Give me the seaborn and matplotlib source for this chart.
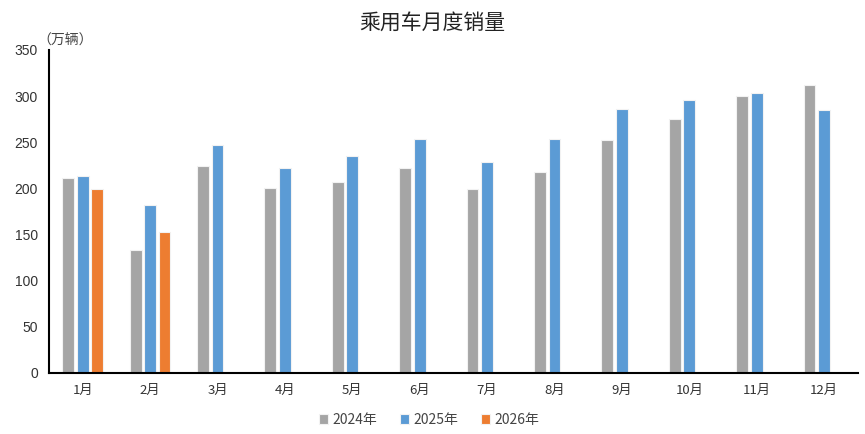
import pandas as pd
import numpy as np
import seaborn as sns
import matplotlib.pyplot as plt

months = ['1月', '2月', '3月', '4月', '5月', '6月', '7月', '8月', '9月', '10月', '11月', '12月']
years = ['2024年', '2025年', '2026年']
sales_2024 = [211, 133, 224, 200, 207, 222, 199, 218, 252, 275, 300, 312]
sales_2025 = [213, 182, 247, 222, 235, 254, 229, 254, 286, 296, 303, 285]
sales_2026 = [199, 153, np.nan, np.nan, np.nan, np.nan, np.nan, np.nan, np.nan, np.nan, np.nan, np.nan]
colors = ['#A5A5A5', '#5B9BD5', '#ED7D31']

df = pd.DataFrame({'month': months * 3,
                   'year': [y for y in years for _ in months],
                   'sales': sales_2024 + sales_2025 + sales_2026})

sns.set_style('white')
plt.rcParams['font.family'] = ['Noto Sans CJK SC', 'DejaVu Sans']

fig = plt.figure(figsize=(8.65, 4.34), dpi=100)
ax = fig.add_axes([0.0566, 0.1406, 0.935, 0.7442])

sns.barplot(data=df, x='month', y='sales', hue='year', palette=colors, saturation=1,
            width=0.645, gap=0.18, edgecolor='#F2F2F2', linewidth=0.8, ax=ax)

ax.set_ylim(0, 350)
ax.set_yticks(range(0, 351, 50))
ax.set_xlim(-0.5, 11.5)
ax.set_xlabel('')
ax.set_ylabel('')
for s in ['top', 'right']:
    ax.spines[s].set_visible(False)
for s in ['left', 'bottom']:
    ax.spines[s].set_color('black')
    ax.spines[s].set_linewidth(1.5)
ax.tick_params(axis='both', length=0, labelsize=9.5, colors='#333333', pad=8)
for lbl in ax.get_yticklabels():
    lbl.set_family(['Liberation Sans', 'DejaVu Sans'])
    lbl.set_fontsize(10)

fig.text(0.5, 0.948, '乘用车月度销量', ha='center', va='center', fontsize=15, color='#222222')
fig.text(0.043, 0.907, '（万辆）', ha='left', va='center', fontsize=10, color='#444444')

ax.legend(loc='upper center', bbox_to_anchor=(0.47, -0.085), ncol=3, frameon=False,
          fontsize=10, handlelength=0.7, handleheight=0.7, handletextpad=0.3,
          columnspacing=1.6, labelcolor='#444444')

fig.savefig('out.png', dpi=100)
